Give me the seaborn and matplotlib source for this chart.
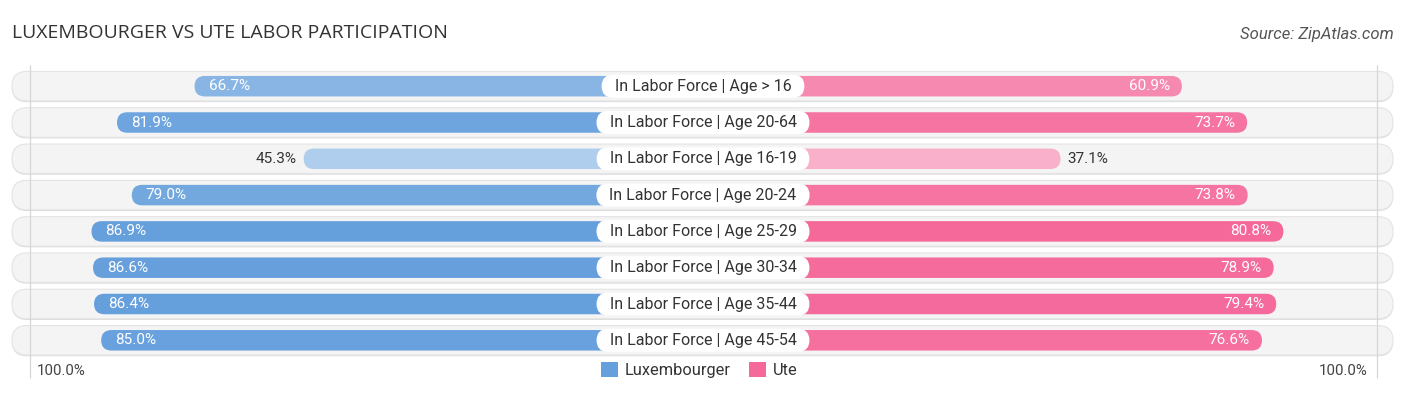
import numpy as np
import pandas as pd
import matplotlib
matplotlib.use("Agg")
import matplotlib.pyplot as plt
import seaborn as sns
from matplotlib.patches import FancyBboxPatch, Patch
from matplotlib.colors import to_rgb

# ---------------- data ----------------
categories = [
    "In Labor Force | Age > 16",
    "In Labor Force | Age 20-64",
    "In Labor Force | Age 16-19",
    "In Labor Force | Age 20-24",
    "In Labor Force | Age 25-29",
    "In Labor Force | Age 30-34",
    "In Labor Force | Age 35-44",
    "In Labor Force | Age 45-54",
]
luxembourger = [66.7, 81.9, 45.3, 79.0, 86.9, 86.6, 86.4, 85.0]
ute = [60.9, 73.7, 37.1, 73.8, 80.8, 78.9, 79.4, 76.6]
series_names = ["Luxembourger", "Ute"]
axis_label = "100.0%"
title = "LUXEMBOURGER VS UTE LABOR PARTICIPATION"
source = "Source: ZipAtlas.com"

# ---------------- style ----------------
BLUE = "#659fdc"
PINK = "#f4689a"
W, H = 1406, 395
CX, SX = 703.0, 5.1      # centre pixel, pixels per percent unit
Y0, SY = 86.2, 36.3      # first row centre pixel, pixels per row
OFFSET = 33.0            # room reserved behind the centre label (percent units)
BAR_H = 20.5 / SY
BG_H = 29.5 / SY
ASP = SX / SY

plt.rcParams["font.family"] = ["Roboto", "DejaVu Sans"]

def px_x(p):
    return (p - CX) / SX

def px_y(p):
    return (p - Y0) / SY

def shade(base, v, vmax, floor=0.0):
    t = floor + (1 - floor) * v / vmax
    b = np.array(to_rgb(base))
    return tuple(1 - (1 - b) * t)

lux_colors = [shade(BLUE, v, max(luxembourger)) for v in luxembourger]
ute_colors = [shade(PINK, v, max(ute), floor=0.12) for v in ute]

df = pd.DataFrame({
    "category": categories,
    "lux_ext": [-(v + OFFSET) for v in luxembourger],
    "ute_ext": [v + OFFSET for v in ute],
})

fig = plt.figure(figsize=(W / 100, H / 100), dpi=100)
ax = fig.add_axes([0, 0, 1, 1])

sns.barplot(data=df, y="category", x="lux_ext", hue="category", palette=lux_colors,
            width=BAR_H, saturation=1, legend=False, orient="h", ax=ax)
sns.barplot(data=df, y="category", x="ute_ext", hue="category", palette=ute_colors,
            width=BAR_H, saturation=1, legend=False, orient="h", ax=ax)

# turn rectangles into rounded pills
r_bar = (BAR_H / 2) / ASP
for p in list(ax.patches):
    x0, y0, w, h = p.get_x(), p.get_y(), p.get_width(), p.get_height()
    x = min(x0, x0 + w)
    w = abs(w)
    fc = p.get_facecolor()
    p.remove()
    ax.add_patch(FancyBboxPatch((x, y0), w, h,
                                boxstyle=f"round,pad=0,rounding_size={r_bar}",
                                mutation_aspect=ASP, fc=fc, ec="none", zorder=3))

ax.set_xlim(px_x(0), px_x(W))
ax.set_ylim(px_y(H), px_y(0))
ax.axis("off")

# background pills
bg_l, bg_r = px_x(12), px_x(1393)
r_bg = (BG_H / 2) / ASP
for i in range(len(categories)):
    ax.add_patch(FancyBboxPatch((bg_l, i - BG_H / 2 + 1.2 / SY), bg_r - bg_l, BG_H,
                                boxstyle=f"round,pad=0,rounding_size={r_bg}",
                                mutation_aspect=ASP, fc="#dcdcdc", ec="none", zorder=0.5))
    ax.add_patch(FancyBboxPatch((bg_l, i - BG_H / 2), bg_r - bg_l, BG_H,
                                boxstyle=f"round,pad=0,rounding_size={r_bg}",
                                mutation_aspect=ASP, fc="#f4f4f4", ec="#e4e4e4",
                                lw=0.8, zorder=1))

# faint 100% guide lines
for xp in (30, 1377):
    ax.vlines(px_x(xp), px_y(65), px_y(378), color="#d6d6d6", lw=0.9, zorder=1.5)

# centre labels
texts = []
for i, c in enumerate(categories):
    t = ax.text(0, i, c, ha="center", va="center", fontsize=11.5, color="#333333", zorder=6)
    texts.append(t)
fig.canvas.draw()
renderer = fig.canvas.get_renderer()
for i, t in enumerate(texts):
    bb = t.get_window_extent(renderer)
    bw = (bb.width + 26) / SX
    bh = 23 / SY
    ax.add_patch(FancyBboxPatch((-bw / 2, i - bh / 2), bw, bh,
                                boxstyle=f"round,pad=0,rounding_size={(bh / 2) / ASP}",
                                mutation_aspect=ASP, fc="white", ec="none", zorder=5))

# value labels
VFS = 11
for i, (lv, uv) in enumerate(zip(luxembourger, ute)):
    le = lv + OFFSET
    ue = uv + OFFSET
    if lv >= 50:
        ax.text(-le + 14 / SX, i, f"{lv:.1f}%", ha="left", va="center",
                fontsize=VFS, color="white", zorder=6)
    else:
        ax.text(-le - 7 / SX, i, f"{lv:.1f}%", ha="right", va="center",
                fontsize=VFS, color="#333333", zorder=6)
    if uv >= 50:
        ax.text(ue - 12 / SX, i, f"{uv:.1f}%", ha="right", va="center",
                fontsize=VFS, color="white", zorder=6)
    else:
        ax.text(ue + 7 / SX, i, f"{uv:.1f}%", ha="left", va="center",
                fontsize=VFS, color="#333333", zorder=6)

# 100% axis labels
ax.text(px_x(37), px_y(371), axis_label, ha="left", va="center", fontsize=10.8, color="#444444")
ax.text(px_x(1368), px_y(371), axis_label, ha="right", va="center", fontsize=10.8, color="#444444")

# legend
handles = [Patch(fc=BLUE, ec="none"), Patch(fc=PINK, ec="none")]
fig.legend(handles, series_names, loc="center", bbox_to_anchor=(699 / W, 1 - 370 / H),
           ncol=2, frameon=False, fontsize=11.8, handlelength=1.05, handleheight=1.05,
           handletextpad=0.4, columnspacing=1.1, labelcolor="#333333")

# title & source
fig.text(12 / W, 1 - 33 / H, title, ha="left", va="center", fontsize=14, color="#333333",
         family=["Open Sans", "DejaVu Sans"])
fig.text(1394 / W, 1 - 34 / H, source, ha="right", va="center", fontsize=12,
         color="#555555", style="italic")

fig.savefig("out.png", dpi=100)
